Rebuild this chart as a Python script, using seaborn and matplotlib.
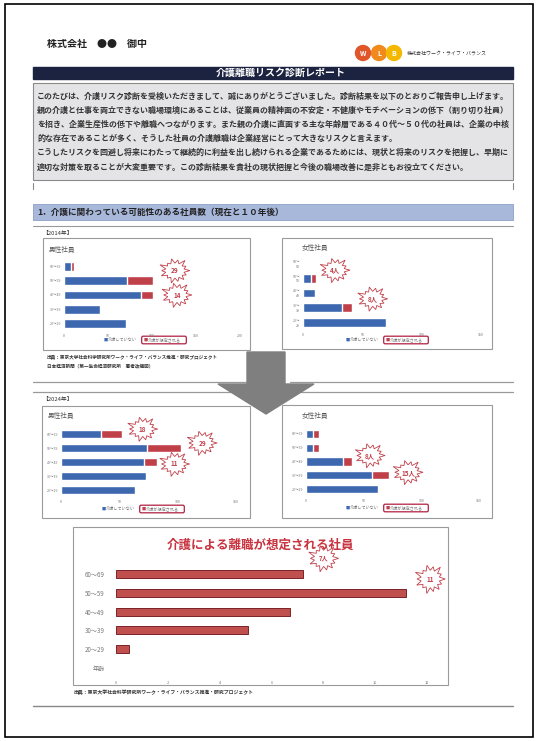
import numpy as np
import pandas as pd
import matplotlib
matplotlib.use('Agg')
import matplotlib.pyplot as plt
import seaborn as sns
from matplotlib.patches import Rectangle, Polygon, FancyBboxPatch, Circle
from matplotlib.transforms import ScaledTranslation

sns.set_theme(style="white")
plt.rcParams['font.family'] = ['Noto Sans CJK JP', 'DejaVu Sans']

# %% --- Data ---
ages = ['60～69', '50～59', '40～49', '30～39', '20～29']
m14_none = [8, 72, 87, 41, 71]
m14_care = [3, 29, 14, 0, 0]
f14_none = [1, 7, 10, 33, 70]
f14_care = [0, 4, 1, 8, 1]
m24_none = [34, 74, 71, 73, 63]
m24_care = [18, 29, 11, 0, 0]
f24_none = [6, 6, 32, 57, 62]
f24_care = [5, 5, 8, 15, 1]
leave_ages = ['60～69', '50～59', '40～49', '30～39', '20～29', '年齢']
leave_vals = [7.2, 11.2, 6.7, 5.1, 0.5]

body_lines = [
    'このたびは、介護リスク診断を受検いただきまして、誠にありがとうございました。診断結果を以下のとおりご報告申し上げます。',
    '親の介護と仕事を両立できない職場環境にあることは、従業員の精神面の不安定・不健康やモチベーションの低下（割り切り社員）',
    'を招き、企業生産性の低下や離職へつながります。また親の介護に直面する主な年齢層である４０代～５０代の社員は、企業の中核',
    '的な存在であることが多く、そうした社員の介護離職は企業経営にとって大きなリスクと言えます。',
    'こうしたリスクを回避し将来にわたって継続的に利益を出し続けられる企業であるためには、現状と将来のリスクを把握し、早期に',
    '適切な対策を取ることが大変重要です。この診断結果を貴社の現状把握と今後の職場改善に是非ともお役立てください。',
]
source1 = '出典：東京大学社会科学研究所ワーク・ライフ・バランス推進・研究プロジェクト'
source2 = '日本経済新聞（第一生命経済研究所　著者改編図）'

BLUE = '#3d68b0'
RED = '#c0404a'
GRAY = '#777777'

# %% --- Layout helpers (pixel coords, origin top-left) ---
W, H = 538, 741
fig = plt.figure(figsize=(W / 100, H / 100), dpi=100)
fig.patch.set_facecolor('white')


def rect(x0, y0, x1, y1):
    return [x0 / W, 1 - y1 / H, (x1 - x0) / W, (y1 - y0) / H]


bg = fig.add_axes([0, 0, 1, 1])
bg.set_xlim(0, W)
bg.set_ylim(H, 0)
bg.axis('off')


def box(x0, y0, x1, y1, **kw):
    bg.add_patch(Rectangle((x0, y0), x1 - x0, y1 - y0, **kw))


def hline(x0, x1, y, **kw):
    bg.plot([x0, x1], [y, y], **kw)


# page frame
box(5, 4, 533, 737, fill=False, ec='black', lw=1.2)

# header
bg.text(47, 44, '株式会社　●●　御中', fontsize=7.2, fontweight='bold', color='#222222', va='center')
for cx, col, ch in [(363, '#e0552a', 'W'), (379, '#f08a1c', 'L'), (394, '#f5b800', 'B')]:
    bg.add_patch(Circle((cx, 53), 7.5, color=col))
    bg.text(cx, 53.5, ch, fontsize=5, color='white', fontweight='bold', ha='center', va='center')
bg.text(407, 53, '株式会社ワーク・ライフ・バランス', fontsize=3.6, color='#333333', va='center')

box(33, 67, 513, 79, color='#1c2340')
bg.text(281, 73, '介護離職リスク診断レポート', fontsize=7.2, fontweight='bold', color='white',
        ha='center', va='center')

# intro text box
box(33, 83, 513, 180, fc='#e4e4e6', ec='#8a8a8a', lw=0.8)
for i, line in enumerate(body_lines):
    bg.text(37, 96 + i * 14.2, line, fontsize=5.75, fontweight='bold', color='#333333', va='center')
bg.plot([33, 33], [183, 189], color='#888888', lw=0.8)
bg.plot([513, 513], [183, 189], color='#888888', lw=0.8)

# section header
box(33, 204, 513, 220, fc='#a8b8db', ec='#8e9fc6', lw=0.6)
bg.text(37, 212, '1．介護に関わっている可能性のある社員数（現在と１０年後）', fontsize=6.2,
        fontweight='bold', color='#222222', va='center')
hline(33, 513, 226, color='#999999', lw=0.8)
bg.text(42, 233, '【2014年】', fontsize=4.2, color='#333333', va='center')

# arrow between periods
hline(33, 250, 382, color='#999999', lw=0.9)
hline(290, 513, 382, color='#999999', lw=0.9)
hline(33, 240, 392, color='#999999', lw=0.9)
hline(300, 513, 392, color='#999999', lw=0.9)
bg.add_patch(Polygon([[247, 352], [285, 352], [285, 384], [314, 384], [266, 414],
                      [218, 384], [247, 384]], closed=True, color='#7f7f7f', zorder=5))
bg.text(42, 399, '【2024年】', fontsize=4.2, color='#333333', va='center')

# source notes
bg.text(47, 357, source1, fontsize=3.3, color='#333333', va='center', fontweight='bold')
bg.text(47, 366, source2, fontsize=3.3, color='#333333', va='center', fontweight='bold')
bg.text(73, 692, source1, fontsize=3.5, color='#333333', va='center', fontweight='bold')
hline(33, 513, 706, color='#888888', lw=1.0)


def starburst(ax, x, y, dx, dy, label, w=30, h=24, fs=4.6):
    trans = fig.dpi_scale_trans + ScaledTranslation(x, y, ax.transData)
    pattern = [1.0, 0.82, 1.08, 0.9, 1.0, 0.78, 1.1, 0.88, 1.0, 0.8, 1.06, 0.92, 0.95, 0.84]
    n = len(pattern)
    verts = []
    for k in range(n):
        a_out = 2 * np.pi * k / n
        a_in = 2 * np.pi * (k + 0.5) / n
        r = pattern[k]
        verts.append([(dx + r * w / 2 * np.cos(a_out)) / 100, (dy + r * h / 2 * np.sin(a_out)) / 100])
        verts.append([(dx + 0.62 * w / 2 * np.cos(a_in)) / 100, (dy + 0.62 * h / 2 * np.sin(a_in)) / 100])
    ax.add_patch(Polygon(verts, closed=True, transform=trans, fc='white', ec=RED, lw=0.6,
                         clip_on=False, zorder=10))
    ax.text(dx / 100, dy / 100, label, transform=trans, fontsize=fs, fontweight='bold', color=RED,
            ha='center', va='center', zorder=11, clip_on=False)


def small_chart(frame, axrect, title, title_xy, none, care, xmax, xticks, legend_xy, labels, bursts):
    box(frame[0], frame[1], frame[2], frame[3], fill=False, ec='#9a9a9a', lw=0.8)
    bg.text(title_xy[0], title_xy[1], title, fontsize=4.8, color='#555555', va='center')
    ax = fig.add_axes(rect(*axrect))
    df = pd.DataFrame({'age': labels, 'none': none,
                       'total': np.array(none) + np.array(care)})
    sns.barplot(data=df, y='age', x='total', color=RED, orient='h', width=0.6,
                errorbar=None, saturation=1, ax=ax)
    sns.barplot(data=df, y='age', x='none', color=BLUE, orient='h', width=0.6,
                errorbar=None, saturation=1, ax=ax)
    ax.set_xlim(0, xmax)
    ax.set_xticks(xticks)
    ax.tick_params(axis='both', labelsize=2.6, labelcolor=GRAY, length=0, pad=2)
    ax.set_xlabel('')
    ax.set_ylabel('')
    ax.set_facecolor('none')
    for s in ax.spines.values():
        s.set_visible(False)
    # legend drawn by hand to get the highlighted box round the second entry
    lx, ly = legend_xy
    bg.text(lx, ly, '■', fontsize=3, color=BLUE, va='center')
    bg.text(lx + 4, ly, '介護していない', fontsize=3, color=GRAY, va='center')
    bg.add_patch(FancyBboxPatch((lx + 38, ly - 3.5), 44, 7, boxstyle='round,pad=0.3,rounding_size=1.5',
                                fill=False, ec='#b02040', lw=0.9, zorder=6))
    bg.text(lx + 40, ly, '■', fontsize=3, color=RED, va='center')
    bg.text(lx + 44, ly, '介護が想定される', fontsize=3, color=GRAY, va='center')
    for row, dx, dy, lab in bursts:
        starburst(ax, none[row] + care[row], row, dx, dy, lab)
    return ax


f14_labels = [a.replace('～', '～\n') for a in ages]

small_chart((43, 238, 250, 350), (64, 259, 240, 331), '男性社員', (49, 250),
            m14_none, m14_care, 200, [0, 50, 100, 150, 200], (104, 340), ages,
            [(1, 22, 10, '29'), (2, 24, 0, '14')])
small_chart((282, 238, 492, 349), (303, 256, 481, 330), '女性社員', (302, 248),
            f14_none, f14_care, 150, [0, 50, 100, 150], (346, 340), f14_labels,
            [(1, 19, 8, '4人'), (3, 21, 9, '8人')])
small_chart((42, 406, 250, 518), (61, 427, 236, 497), '男性社員', (48, 416),
            m24_none, m24_care, 150, [0, 50, 100, 150], (102, 509), ages,
            [(0, 21, 5, '18'), (1, 21, 5, '29'), (2, 18, -2, '11')])
small_chart((282, 405, 492, 518), (306, 427, 479, 496), '女性社員', (302, 416),
            f24_none, f24_care, 150, [0, 50, 100, 150], (346, 508), ages,
            [(2, 18, 6, '8人'), (3, 19, 3, '15人')])

# %% --- Bottom chart ---
box(73, 527, 448, 685, fill=False, ec='#9a9a9a', lw=0.8)
bg.text(260, 545, '介護による離職が想定される社員', fontsize=9, fontweight='bold',
        color='#c8333f', ha='center', va='center')
axb = fig.add_axes(rect(116, 565, 427, 677))
dfb = pd.DataFrame({'age': leave_ages[:len(leave_vals)], 'value': leave_vals})
sns.barplot(data=dfb, y='age', x='value', order=leave_ages, color='#c0504d', orient='h',
            width=0.42, errorbar=None, saturation=1, edgecolor='#7a2228', linewidth=0.7, ax=axb)
axb.set_xlim(0, 12)
axb.set_xticks(range(0, 13, 2))
axb.tick_params(axis='both', labelcolor=GRAY, length=0, pad=3)
axb.tick_params(axis='x', labelsize=2.8)
axb.tick_params(axis='y', labelsize=4.4, pad=8)
axb.set_xlabel('')
axb.set_ylabel('')
axb.set_facecolor('none')
for s in axb.spines.values():
    s.set_visible(False)
starburst(axb, leave_vals[0], 0, 21, 16, '7人', w=30, h=26, fs=4.4)
starburst(axb, leave_vals[1], 1, 24, 14, '11', w=30, h=28, fs=4.6)

fig.savefig('out.png', dpi=100)
